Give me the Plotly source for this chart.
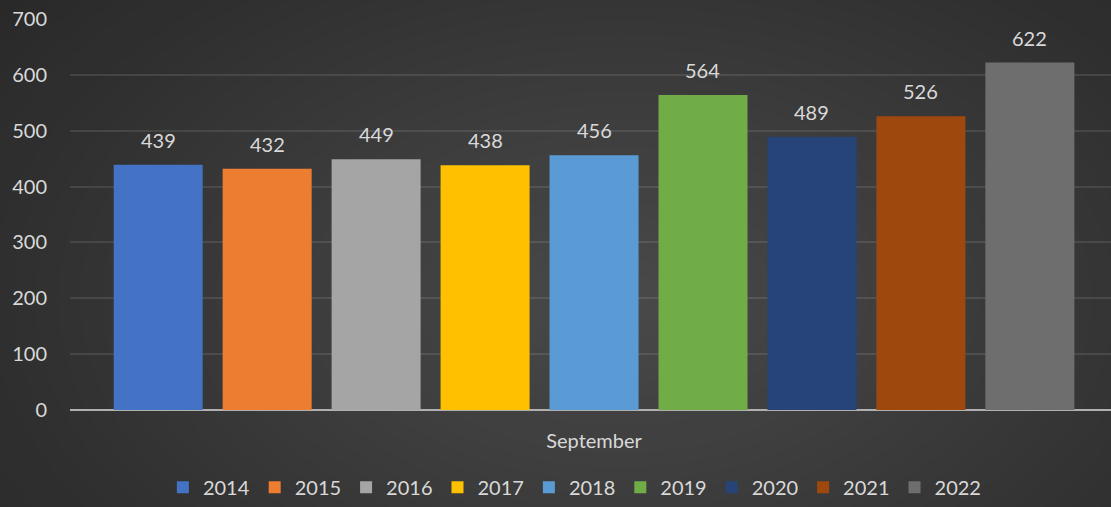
import plotly.graph_objects as go

categories = ["September"]
years = ["2014", "2015", "2016", "2017", "2018", "2019", "2020", "2021", "2022"]
values = [439, 432, 449, 438, 456, 564, 489, 526, 622]
colors = ["#4472c4", "#ed7d31", "#a5a5a5", "#ffc000", "#5b9bd5",
          "#70ad47", "#264478", "#9e480e", "#6e6e6e"]
y_ticks = [0, 100, 200, 300, 400, 500, 600, 700]

W, H = 1111, 507
L, R, T, B = 70, 0, 19, 97
pw, ph = W - L - R, H - T - B
txt = "#d9d9d9"
FONT = "Lato, Open Sans, sans-serif"
FS = 20
BARGAP, GROUPGAP = 0.058, 0.183
XR = [-0.5034, 0.4966]

fig = go.Figure()
n = len(years)
slot_px = (1 - BARGAP) / n * pw / (XR[1] - XR[0])
annotations = []
for i, (yr, v, c) in enumerate(zip(years, values, colors)):
    fig.add_trace(go.Bar(
        name=yr, x=categories, y=[v], marker=dict(color=c, line=dict(width=0)),
        hoverinfo="skip",
    ))
    annotations.append(dict(
        x=categories[0], y=v, xref="x", yref="y", text=str(v), showarrow=False,
        xshift=(i - (n - 1) / 2) * slot_px, yshift=25,
        font=dict(color=txt, size=FS, family=FONT),
    ))

# radial gradient background
def px2paper(X, Y):
    return (X - L) / pw, (H - B - Y) / ph

shapes = []
cx, cy = 620, 300
N = 40
rx_max, ry_max = 900, 560
dark, light = 0x24, 0x4a
for i in range(N, 0, -1):
    f = i / N
    lv = int(round(light + (dark - light) * f))
    col = f"rgb({lv},{lv},{lv})"
    x0, y1 = px2paper(cx - rx_max * f, cy - ry_max * f)
    x1, y0 = px2paper(cx + rx_max * f, cy + ry_max * f)
    shapes.append(dict(type="circle", xref="paper", yref="paper",
                       x0=x0, x1=x1, y0=y0, y1=y1,
                       fillcolor=col, line=dict(width=0), layer="below"))

fig.update_layout(
    width=W, height=H,
    margin=dict(l=L, r=R, t=T, b=B),
    paper_bgcolor="#242424", plot_bgcolor="rgba(0,0,0,0)",
    barmode="group", bargap=BARGAP, bargroupgap=GROUPGAP,
    font=dict(family=FONT, color=txt, size=FS),
    shapes=shapes, annotations=annotations,
    showlegend=True,
    legend=dict(orientation="h", x=0.485, xanchor="center", y=-0.2475, yanchor="bottom",
                font=dict(size=FS, color=txt, family=FONT), bgcolor="rgba(0,0,0,0)",
                itemclick=False),
    xaxis=dict(range=XR, showgrid=False, showline=False, zeroline=False,
               ticks="outside", ticklen=13, tickcolor="rgba(0,0,0,0)",
               tickfont=dict(size=FS, color=txt, family=FONT)),
    yaxis=dict(range=[0, 700], tickvals=y_ticks, showgrid=True,
               gridcolor="rgba(255,255,255,0.10)", gridwidth=1.5,
               zeroline=True, zerolinecolor="#b0b0b0", zerolinewidth=2,
               showline=False, ticks="outside", ticklen=18, tickcolor="rgba(0,0,0,0)",
               tickfont=dict(size=FS, color=txt, family=FONT)),
)

fig.write_html("out.html", config={"displayModeBar": False},
               post_script="document.body.style.margin='0';document.body.style.background='#242424';")
